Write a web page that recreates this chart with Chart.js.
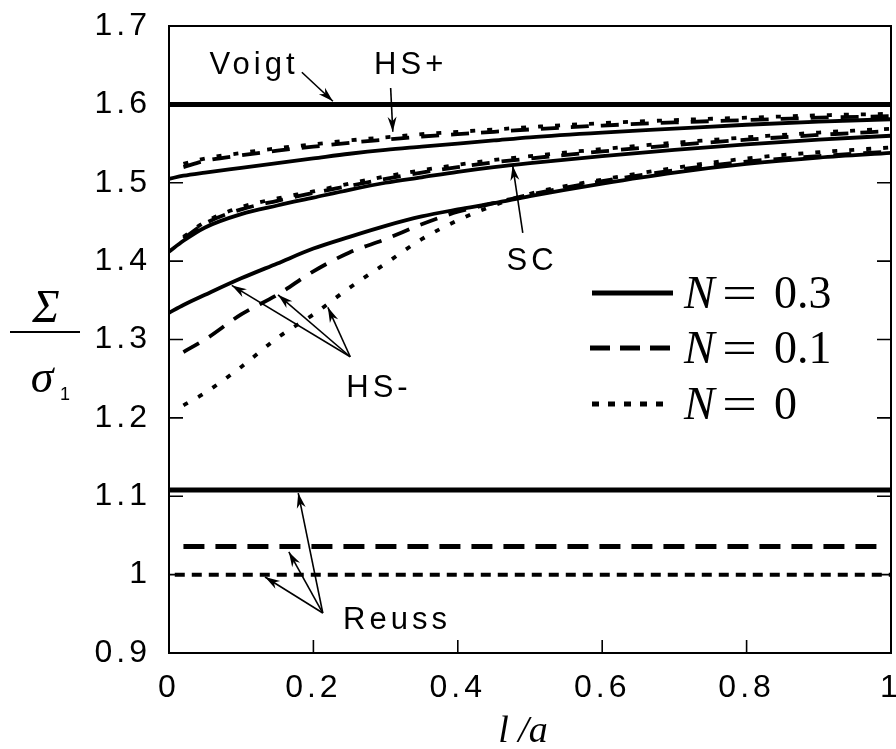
<!DOCTYPE html>
<html>
<head>
<meta charset="utf-8">
<script src="https://cdn.jsdelivr.net/npm/chart.js@4.4.1/dist/chart.umd.min.js"></script>
<style>
html,body{margin:0;padding:0;background:#fff;}
canvas{display:block;}
</style>
</head>
<body>
<canvas id="c" width="896" height="749"></canvas>
<script>
// ---------- data ----------
const xTickLabels = ['0', '0.2', '0.4', '0.6', '0.8', '1'];
const yTickLabels = ['0.9', '1', '1.1', '1.2', '1.3', '1.4', '1.5', '1.6', '1.7'];

const xSolid  = [0, 0.02, 0.05, 0.1, 0.15, 0.2, 0.25, 0.3, 0.35, 0.4, 0.45, 0.5, 0.6, 0.7, 0.8, 0.9, 1];
const xBroken = [0.02, 0.05, 0.1, 0.15, 0.2, 0.25, 0.3, 0.35, 0.4, 0.45, 0.5, 0.6, 0.7, 0.8, 0.9, 1];

// HS+ bound
const hsPlusN03 = [1.505, 1.509, 1.513, 1.519, 1.525, 1.531, 1.537, 1.542, 1.546, 1.550, 1.554, 1.558, 1.564, 1.569, 1.574, 1.578, 1.581];
const hsPlusN01 = [1.520, 1.528, 1.535, 1.541, 1.546, 1.551, 1.555, 1.559, 1.562, 1.565, 1.568, 1.573, 1.577, 1.580, 1.583, 1.585];
const hsPlusN0  = [1.524, 1.531, 1.538, 1.544, 1.549, 1.554, 1.558, 1.562, 1.565, 1.568, 1.571, 1.576, 1.580, 1.583, 1.586, 1.588];

// Self-consistent (SC)
const scN03 = [1.412, 1.426, 1.443, 1.460, 1.471, 1.481, 1.491, 1.500, 1.507, 1.514, 1.520, 1.525, 1.534, 1.542, 1.549, 1.555, 1.560];
const scN01 = [1.429, 1.448, 1.466, 1.477, 1.487, 1.496, 1.505, 1.513, 1.520, 1.526, 1.531, 1.540, 1.548, 1.555, 1.561, 1.566];
const scN0  = [1.431, 1.450, 1.469, 1.480, 1.489, 1.499, 1.508, 1.516, 1.523, 1.529, 1.534, 1.543, 1.551, 1.558, 1.564, 1.569];

// HS- bound
const hsMinusN03 = [1.334, 1.344, 1.357, 1.378, 1.397, 1.416, 1.431, 1.445, 1.457, 1.466, 1.474, 1.483, 1.499, 1.513, 1.524, 1.532, 1.538];
const hsMinusN01 = [1.284, 1.300, 1.332, 1.357, 1.387, 1.411, 1.428, 1.447, 1.463, 1.474, 1.485, 1.502, 1.516, 1.527, 1.534, 1.540];
const hsMinusN0  = [1.216, 1.232, 1.265, 1.302, 1.332, 1.366, 1.397, 1.428, 1.452, 1.471, 1.486, 1.504, 1.519, 1.531, 1.539, 1.545];

// Voigt and Reuss bounds (constant)
const xVoigt = [0, 1];
const voigt = [1.6, 1.6];
const xReussN03 = [0, 1];
const reussN03 = [1.108, 1.108];
const xReussN01 = [0.02, 0.99];
const reussN01 = [1.036, 1.036];
const xReussN0 = [0.008, 1];
const reussN0 = [1.0, 1.0];

const legendLabels = ['0.3', '0.1', '0'];

// ---------- helpers ----------
function pts(xs, ys) { return xs.map((x, i) => ({ x: x, y: ys[i] })); }
const SOLID = [], DASH = [18, 12], DOT = [5, 12];
function ds(xs, ys, dash, w) {
  return {
    data: pts(xs, ys), borderColor: '#000', backgroundColor: '#000',
    borderWidth: w || 3.8, borderDash: dash, pointRadius: 0,
    cubicInterpolationMode: 'monotone', fill: false, borderCapStyle: 'butt'
  };
}

const datasets = [
  ds(xVoigt, voigt, SOLID, 5),
  ds(xReussN03, reussN03, SOLID, 5),
  ds(xReussN01, reussN01, [21, 11], 5),
  ds(xReussN0, reussN0, [10, 7], 4),
  ds(xSolid, hsPlusN03, SOLID), ds(xBroken, hsPlusN01, DASH), ds(xBroken, hsPlusN0, DOT),
  ds(xSolid, scN03, SOLID), ds(xBroken, scN01, DASH), ds(xBroken, scN0, DOT),
  ds(xSolid, hsMinusN03, SOLID), ds(xBroken, hsMinusN01, DASH), ds(xBroken, hsMinusN0, DOT)
];

const SANS = '"Liberation Sans", Arial, sans-serif';
const SERIF = '"Liberation Serif", "Times New Roman", serif';

function arrow(ctx, x1, y1, x2, y2) {
  ctx.beginPath();
  ctx.moveTo(x1, y1); ctx.lineTo(x2, y2);
  ctx.lineWidth = 1.6; ctx.strokeStyle = '#000'; ctx.stroke();
  const a = Math.atan2(y2 - y1, x2 - x1), L = 15, W = 4.5;
  const bx = x2 - L * Math.cos(a), by = y2 - L * Math.sin(a);
  const nx = -Math.sin(a), ny = Math.cos(a);
  const mx = x2 - 0.7 * L * Math.cos(a), my = y2 - 0.7 * L * Math.sin(a);
  ctx.beginPath();
  ctx.moveTo(x2, y2);
  ctx.lineTo(bx + nx * W, by + ny * W);
  ctx.lineTo(mx, my);
  ctx.lineTo(bx - nx * W, by - ny * W);
  ctx.closePath(); ctx.fillStyle = '#000'; ctx.fill();
}

const decor = {
  id: 'decor',
  beforeDraw(chart) { chart.ctx.letterSpacing = '4px'; },
  afterDraw(chart) {
    const ctx = chart.ctx, a = chart.chartArea;
    const xs = chart.scales.x, ys = chart.scales.y;
    const P = (xv, yv) => [xs.getPixelForValue(xv), ys.getPixelForValue(yv)];
    ctx.save();
    ctx.letterSpacing = '0px';
    // frame
    ctx.strokeStyle = '#000'; ctx.lineWidth = 2;
    ctx.strokeRect(a.left, a.top, a.right - a.left, a.bottom - a.top);
    // inward ticks
    ctx.lineWidth = 1.6;
    ys.ticks.forEach(t => {
      const y = ys.getPixelForValue(t.value);
      ctx.beginPath(); ctx.moveTo(a.left, y); ctx.lineTo(a.left + 14, y);
      ctx.moveTo(a.right, y); ctx.lineTo(a.right - 14, y); ctx.stroke();
    });
    xs.ticks.forEach(t => {
      const x = xs.getPixelForValue(t.value);
      ctx.beginPath(); ctx.moveTo(x, a.bottom); ctx.lineTo(x, a.bottom - 13); ctx.stroke();
    });

    // annotation labels
    ctx.fillStyle = '#000';
    ctx.font = '31px ' + SANS;
    ctx.letterSpacing = '4px';
    ctx.textBaseline = 'middle'; ctx.textAlign = 'center';
    const lab = (t, xv, yv) => { const p = P(xv, yv); ctx.fillText(t, p[0] + 2, p[1]); };
    lab('Voigt', 0.115, 1.650);
    lab('HS+', 0.332, 1.650);
    lab('SC', 0.50, 1.399);
    lab('HS-', 0.288, 1.237);
    lab('Reuss', 0.313, 0.942);
    ctx.letterSpacing = '0px';
    const ar = (x1, y1, x2, y2) => { const p = P(x1, y1), q = P(x2, y2); arrow(ctx, p[0], p[1], q[0], q[1]); };
    ar(0.184, 1.641, 0.227, 1.604);
    ar(0.307, 1.621, 0.310, 1.565);
    ar(0.490, 1.436, 0.476, 1.522);
    ar(0.251, 1.278, 0.087, 1.369);
    ar(0.251, 1.278, 0.151, 1.357);
    ar(0.251, 1.278, 0.220, 1.341);
    ar(0.213, 0.951, 0.179, 1.104);
    ar(0.213, 0.951, 0.166, 1.029);
    ar(0.213, 0.951, 0.133, 0.997);

    // legend
    const ly = [293, 348, 404];
    ctx.lineWidth = 5; ctx.lineCap = 'butt';
    ctx.setLineDash([]);
    ctx.beginPath(); ctx.moveTo(592, ly[0]); ctx.lineTo(673, ly[0]); ctx.stroke();
    ctx.setLineDash([20, 10]);
    ctx.beginPath(); ctx.moveTo(590, ly[1]); ctx.lineTo(672, ly[1]); ctx.stroke();
    ctx.setLineDash([7, 9]);
    ctx.beginPath(); ctx.moveTo(592, ly[2]); ctx.lineTo(663, ly[2]); ctx.stroke();
    ctx.setLineDash([]);
    ctx.textBaseline = 'alphabetic'; ctx.textAlign = 'left';
    legendLabels.forEach((v, i) => {
      const by = ly[i] + 15;
      ctx.font = 'italic 46px ' + SERIF; ctx.fillText('N', 684, by);
      ctx.font = '46px ' + SERIF;
      ctx.save(); ctx.translate(722, by); ctx.scale(1.35, 1); ctx.fillText('=', 0, 0); ctx.restore();
      ctx.fillText(v, 774, by);
    });

    // axis titles
    ctx.font = 'italic 38px ' + SERIF;
    ctx.textAlign = 'center'; ctx.textBaseline = 'alphabetic';
    ctx.fillText('l /a', 523, 742);
    // y fraction
    ctx.font = 'italic 46px ' + SERIF;
    ctx.fillText('Σ', 46, 322);
    ctx.lineWidth = 2;
    ctx.beginPath(); ctx.moveTo(10, 332); ctx.lineTo(80, 332); ctx.stroke();
    ctx.fillText('σ', 42, 392);
    ctx.font = '18px ' + SANS;
    ctx.fillText('1', 65, 400);
    ctx.restore();
  }
};

new Chart(document.getElementById('c'), {
  type: 'line',
  data: { datasets: datasets },
  plugins: [decor],
  options: {
    responsive: false, animation: false, devicePixelRatio: 1,
    layout: { padding: { top: 26, right: 5, left: 0, bottom: 0 } },
    plugins: { legend: { display: false }, tooltip: { enabled: false } },
    scales: {
      x: {
        type: 'linear', min: 0, max: 1,
        grid: { display: false, drawTicks: false },
        border: { display: false },
        ticks: {
          stepSize: 0.2, autoSkip: false, maxRotation: 0, padding: 16,
          color: '#000', font: { family: SANS, size: 32 },
          callback: (v, i) => xTickLabels[i]
        },
        afterFit: s => { s.height = 96; s.paddingLeft = 0; s.paddingRight = 0; }
      },
      y: {
        type: 'linear', min: 0.9, max: 1.7,
        grid: { display: false, drawTicks: false },
        border: { display: false },
        ticks: {
          stepSize: 0.1, autoSkip: false, padding: 18,
          color: '#000', font: { family: SANS, size: 32 },
          callback: (v, i) => yTickLabels[i]
        },
        afterFit: s => { s.width = 169; s.paddingTop = 0; s.paddingBottom = 0; }
      }
    }
  }
});
</script>
</body>
</html>
